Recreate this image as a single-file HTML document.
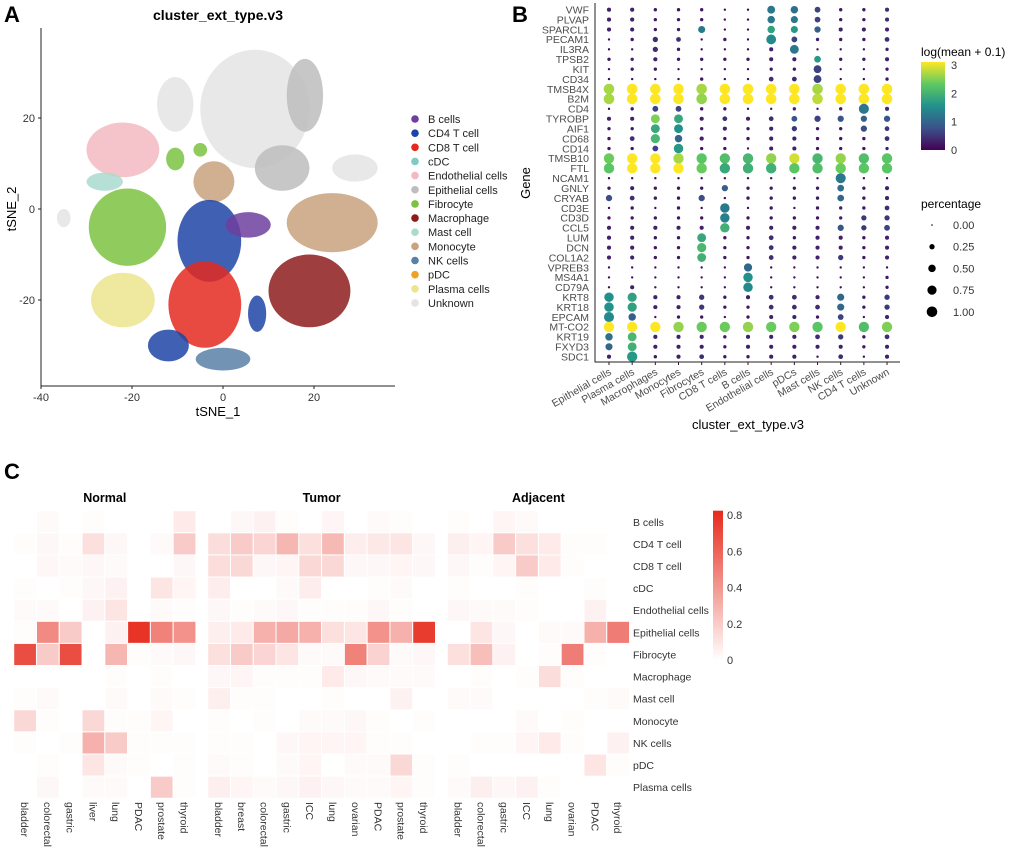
<!DOCTYPE html>
<html><head><meta charset="utf-8">
<style>
body{margin:0;background:#fff;}
svg{display:block;font-family:"Liberation Sans",Arial,sans-serif;}
</style></head>
<body>
<svg id="fig" width="1020" height="849" viewBox="0 0 1020 849" xmlns="http://www.w3.org/2000/svg">
<g id="pa"></g>
<g id="pb"></g>
<g id="pc"></g>
</svg>
<script>
// ---------- Panel A data ----------
const typeNames = ["B cells","CD4 T cell","CD8 T cell","cDC","Endothelial cells","Epithelial cells","Fibrocyte","Macrophage","Mast cell","Monocyte","NK cells","pDC","Plasma cells","Unknown"];
const typeColors = ["#6f3f9f","#1e45a6","#e4291f","#7fcbc3","#f3b9c1","#bdbdbd","#7cc242","#8e1c1c","#a9dbce","#c9a27f","#5b80a8","#f0a124","#ece58f","#e4e4e4"];
const clusterX = [7, 13, 18, -2, -22, -10.5, -21, -3, -4, 0, 5.5, 19, 24, -22, -12, 7.5, 29, -26, -35, -10.5, -5];
const clusterY = [22, 9, 25, 6, 13, 23, -4, -7, -21, -33, -3.5, -18, -3, -20, -30, -23, 9, 6, -2, 11, 13];
const clusterRX = [12, 6, 4, 4.5, 8, 4, 8.5, 7, 8, 6, 5, 9, 10, 7, 4.5, 2, 5, 4, 1.5, 2, 1.5];
const clusterRY = [13, 5, 8, 4.5, 6, 6, 8.5, 9, 9.5, 2.5, 2.8, 8, 6.5, 6, 3.5, 4, 3, 2, 2, 2.5, 1.5];
const clusterType = [13, 5, 5, 9, 4, 13, 6, 1, 2, 10, 0, 7, 9, 12, 1, 1, 13, 8, 13, 6, 6];
const xTicksA = [-40,-20,0,20];
const yTicksA = [20,0,-20];

// ---------- Panel B data ----------
const genes = ["VWF","PLVAP","SPARCL1","PECAM1","IL3RA","TPSB2","KIT","CD34","TMSB4X","B2M","CD4","TYROBP","AIF1","CD68","CD14","TMSB10","FTL","NCAM1","GNLY","CRYAB","CD3E","CD3D","CCL5","LUM","DCN","COL1A2","VPREB3","MS4A1","CD79A","KRT8","KRT18","EPCAM","MT-CO2","KRT19","FXYD3","SDC1"];
const clustersB = ["Epithelial cells","Plasma cells","Macrophages","Monocytes","Fibrocytes","CD8 T cells","B cells","Endothelial cells","pDCs","Mast cells","NK cells","CD4 T cells","Unknown"];
const exprB = [
[.3,.3,.2,.2,.2,.1,.1,1.2,1.1,.6,.2,.2,.4],
[.3,.3,.2,.2,.2,.1,.1,1.2,1.2,.6,.2,.2,.4],
[.3,.3,.2,.2,1.2,.1,.1,1.7,1.6,.9,.3,.3,.3],
[.1,.2,.4,.4,.1,.2,.1,1.4,.6,.3,.2,.2,.4],
[.1,.1,.4,.2,.1,.1,.1,.3,1.2,.1,.1,.1,.3],
[.2,.3,.3,.2,.2,.2,.2,.3,.3,1.6,.2,.2,.3],
[.1,.2,.2,.1,.1,.1,.1,.2,.2,.6,.1,.1,.2],
[.1,.1,.1,.1,.2,.1,.1,.4,.4,.6,.1,.1,.2],
[2.6,3,3,3,2.6,3,3,3,3,2.6,3,3,3],
[2.6,3,3,3,2.5,3,3,3,3,2.7,3,3,3],
[.1,.2,.6,.6,.2,.2,.1,.1,.3,.1,.2,1.2,.4],
[.3,.3,2.4,1.8,.3,.4,.3,.4,.8,.6,.8,.9,.8],
[.2,.2,1.8,1.5,.2,.3,.2,.3,.5,.2,.2,.7,.5],
[.2,.4,2,1,.3,.2,.2,.3,.3,.2,.2,.2,.4],
[.2,.2,.6,1.6,.2,.2,.1,.3,.3,.2,.2,.2,.3],
[2.3,3,3,2.6,2.2,2.1,2,2.5,2.8,2,2.5,2.1,2.2],
[2.2,3,3,3,2.3,1.8,1.9,1.9,2.2,2.1,2.3,2.2,2.2],
[.1,.1,.1,.1,.1,.1,.1,.1,.1,.1,1.2,.1,.1],
[.2,.3,.2,.2,.2,.9,.2,.2,.2,.2,1.1,.2,.3],
[.7,.4,.2,.2,.7,.1,.2,.2,.2,.2,1,.2,.3],
[.1,.2,.1,.2,.1,1.2,.1,.2,.1,.2,.3,.2,.4],
[.2,.2,.2,.2,.2,1.3,.2,.2,.2,.2,.3,.5,.5],
[.3,.3,.3,.3,.3,1.9,.3,.3,.3,.3,.8,.5,.6],
[.3,.3,.2,.2,1.8,.2,.2,.4,.2,.3,.3,.2,.3],
[.3,.3,.2,.2,2,.2,.2,.4,.3,.3,.3,.2,.3],
[.3,.3,.2,.2,1.9,.2,.2,.4,.3,.3,.5,.2,.3],
[.1,.1,.1,.1,.1,.1,1,.1,.1,.1,.1,.1,.1],
[.1,.1,.1,.1,.1,.1,1.5,.1,.1,.1,.1,.1,.2],
[.1,.3,.1,.1,.1,.1,1.4,.1,.1,.1,.1,.1,.2],
[1.5,1.7,.3,.3,.5,.2,.3,.4,.4,.3,1,.2,.5],
[1.5,1.7,.3,.3,.5,.2,.2,.4,.4,.4,1,.2,.5],
[1.4,.9,.1,.2,.2,.1,.2,.3,.3,.2,.6,.1,.3],
[3,3,3,2.5,2.3,2.3,2.5,2.3,2.4,2.2,3,2.1,2.4],
[1.1,2,.3,.3,.3,.2,.3,.3,.3,.4,.5,.2,.4],
[1,1.9,.3,.3,.3,.2,.3,.3,.3,.3,.3,.2,.3],
[.3,1.6,.2,.3,.4,.2,.2,.3,.3,.1,.4,.1,.3]];
const pctB = [
[.15,.15,.1,.1,.1,.05,.05,.55,.5,.3,.1,.1,.15],
[.15,.15,.1,.1,.1,.05,.05,.5,.45,.3,.1,.1,.15],
[.15,.15,.1,.1,.45,.05,.05,.5,.45,.35,.15,.15,.15],
[.05,.1,.25,.2,.05,.1,.05,.85,.3,.1,.1,.1,.2],
[.05,.05,.25,.1,.05,.05,.05,.15,.7,.05,.05,.05,.1],
[.1,.1,.15,.1,.1,.1,.1,.15,.15,.4,.1,.1,.15],
[.05,.1,.1,.05,.05,.05,.05,.1,.1,.55,.05,.05,.1],
[.05,.05,.05,.05,.1,.05,.05,.2,.2,.55,.05,.05,.1],
[1,1,1,1,1,1,1,1,1,1,1,1,1],
[1,1,1,1,1,1,1,1,1,1,1,1,1],
[.05,.1,.3,.3,.1,.1,.05,.05,.1,.05,.1,.9,.15],
[.15,.15,.7,.7,.15,.2,.15,.2,.3,.35,.35,.35,.35],
[.1,.1,.7,.7,.1,.15,.1,.15,.25,.1,.1,.35,.2],
[.1,.2,.75,.5,.15,.1,.1,.15,.15,.1,.1,.1,.2],
[.1,.1,.3,.8,.1,.1,.05,.15,.15,.1,.1,.1,.1],
[.95,.95,.95,.95,.95,.95,.95,.95,.95,.95,.95,.95,.95],
[.95,.95,.95,.95,.95,.95,.95,.95,.95,.95,.95,.95,.95],
[.05,.05,.05,.05,.05,.05,.05,.05,.05,.05,.9,.05,.05],
[.1,.15,.1,.1,.1,.35,.1,.1,.1,.1,.4,.1,.15],
[.35,.2,.1,.1,.35,.05,.1,.1,.1,.1,.4,.1,.15],
[.05,.1,.05,.1,.05,.8,.05,.1,.05,.1,.1,.1,.2],
[.1,.1,.1,.1,.1,.8,.1,.1,.1,.1,.1,.25,.25],
[.15,.15,.15,.15,.15,.8,.15,.15,.15,.15,.35,.25,.3],
[.15,.15,.1,.1,.7,.1,.1,.2,.1,.15,.15,.1,.15],
[.15,.15,.1,.1,.75,.1,.1,.2,.15,.15,.15,.1,.15],
[.15,.15,.1,.1,.7,.1,.1,.2,.15,.15,.25,.1,.15],
[.05,.05,.05,.05,.05,.05,.6,.05,.05,.05,.05,.05,.05],
[.05,.05,.05,.05,.05,.05,.8,.05,.05,.05,.05,.05,.1],
[.05,.15,.05,.05,.05,.05,.8,.05,.05,.05,.05,.05,.1],
[.8,.75,.15,.15,.25,.1,.15,.2,.2,.15,.45,.1,.25],
[.8,.75,.15,.15,.25,.1,.1,.2,.2,.2,.45,.1,.25],
[.9,.5,.05,.1,.1,.05,.1,.15,.15,.1,.3,.05,.15],
[.95,.95,.95,.95,.95,.95,.95,.95,.95,.95,.95,.95,.95],
[.5,.7,.15,.15,.15,.1,.15,.15,.15,.2,.25,.1,.2],
[.45,.7,.15,.15,.15,.1,.15,.15,.15,.15,.15,.1,.15],
[.15,.95,.1,.15,.2,.1,.1,.15,.15,.05,.2,.05,.15]];
const colorTicksB = [0,1,2,3];
const sizeTicksB = [0,0.25,0.5,0.75,1];
const sizeLabelsB = ["0.00","0.25","0.50","0.75","1.00"];

// ---------- Panel C data ----------
const cellTypes = ["B cells","CD4 T cell","CD8 T cell","cDC","Endothelial cells","Epithelial cells","Fibrocyte","Macrophage","Mast cell","Monocyte","NK cells","pDC","Plasma cells"];
const normalTissues = ["bladder","colorectal","gastric","liver","lung","PDAC","prostate","thyroid"];
const tumorTissues = ["bladder","breast","colorectal","gastric","ICC","lung","ovarian","PDAC","prostate","thyroid"];
const adjacentTissues = ["bladder","colorectal","gastric","ICC","lung","ovarian","PDAC","thyroid"];
const normalVals = [
[0,.02,0,.01,0,0,0,.08],[.01,.03,.01,.12,.03,0,.02,.2],[0,.03,.02,.03,.02,0,0,.03],
[.01,0,.01,.03,.05,0,.1,.04],[.02,.02,0,.05,.1,0,.02,.01],[.01,.45,.2,0,.05,.78,.48,.42],
[.68,.2,.68,0,.28,.01,.02,.03],[0,0,0,0,.01,0,.01,0],[.01,.02,0,0,.02,0,.02,.01],
[.15,.01,0,.15,.01,.01,.04,0],[.01,0,.01,.3,.2,.01,.01,.01],[0,.01,0,.1,.02,.01,0,.01],
[0,.03,0,.02,.02,0,.2,.01]];
const tumorVals = [
[0,.03,.05,.01,0,.04,0,.02,.01,0],[.13,.2,.16,.28,.12,.27,.07,.09,.1,.03],
[.13,.15,.03,.04,.15,.15,.03,.03,.04,.03],[.07,0,0,.02,.07,0,0,.01,.02,0],
[.03,.01,.02,.03,.01,.01,.01,.03,.01,0],[.06,.08,.3,.33,.3,.12,.1,.42,.3,.75],
[.12,.2,.16,.1,.02,.02,.48,.17,.02,.03],[.03,.04,.01,.01,.01,.08,.03,.02,.02,.02],
[.06,.01,.01,0,0,.01,0,0,.05,0],[.01,0,.01,0,.02,.02,.03,.01,0,.01],
[.01,.01,0,.03,.04,.04,.04,.01,.01,0],[.02,.01,0,.02,.04,0,.02,.02,.15,.01],
[.06,.04,.02,.03,.05,.03,.02,.02,.04,.01]];
const adjacentVals = [
[.01,0,.04,.02,0,0,0,0],[.06,.04,.2,.12,.08,.01,.01,0],[.03,.01,.04,.2,.08,.01,0,0],
[.01,0,0,.01,0,0,.01,0],[.03,.02,.02,.01,0,0,.05,0],[0,.1,.03,0,.02,.02,.3,.5],
[.12,.25,.05,0,.01,.5,.01,0],[0,.01,0,.01,.13,.01,0,0],[.02,.02,0,0,0,0,.01,.02],
[0,0,0,.02,0,.01,0,0],[0,.01,.01,.04,.08,.01,0,.05],[.01,0,0,0,0,0,.1,.01],
[.02,.06,.03,.05,.01,0,0,0]];
const heatTicks = [0,0.2,0.4,0.6,0.8];

(function(){
const NS="http://www.w3.org/2000/svg";
function mk(parent,tag,attrs,txt){const e=document.createElementNS(NS,tag);for(const k in attrs)e.setAttribute(k,attrs[k]);if(txt!==undefined)e.textContent=txt;parent.appendChild(e);return e;}
const fig=document.getElementById('fig');
const defs=mk(fig,'defs',{});

// ===== Panel A =====
const pa=document.getElementById('pa');
const xA=v=>223+4.55*v, yA=v=>209-4.55*v;
let t=mk(pa,'text',{x:4,y:22,'font-size':22,'font-weight':'bold'},'A');


t=mk(pa,'text',{x:218,y:20,'font-size':14,'font-weight':'bold','text-anchor':'middle'},'cluster_ext_type.v3');


clusterX.forEach((cx,i)=>{
  const e=mk(pa,'ellipse',{cx:xA(cx),cy:yA(clusterY[i]),rx:clusterRX[i]*4.55,ry:clusterRY[i]*4.55,fill:typeColors[clusterType[i]],'fill-opacity':0.85});
  
  
});
let ax=mk(pa,'path',{d:'M41 28 V386 H395',stroke:'#222',fill:'none','stroke-width':1});


xTicksA.forEach(v=>{mk(pa,'line',{x1:xA(v),x2:xA(v),y1:386,y2:389,stroke:'#222'});
  const l=mk(pa,'text',{x:xA(v),y:401,'font-size':11,'text-anchor':'middle',fill:'#333'},v);
  
  });
yTicksA.forEach(v=>{mk(pa,'line',{x1:38,x2:41,y1:yA(v),y2:yA(v),stroke:'#222'});
  const l=mk(pa,'text',{x:35,y:yA(v)+4,'font-size':11,'text-anchor':'end',fill:'#333'},v);
  
  });
t=mk(pa,'text',{x:218,y:416,'font-size':13,'text-anchor':'middle'},'tSNE_1');


t=mk(pa,'text',{x:16,y:209,'font-size':13,'text-anchor':'middle',transform:'rotate(-90 16 209)'},'tSNE_2');


typeNames.forEach((n,i)=>{const y=119+i*14.15;
  const g=mk(pa,'g',{});
  
  
  mk(g,'circle',{cx:415,cy:y,r:3.8,fill:typeColors[i]});
  mk(g,'text',{x:428,y:y+4,'font-size':11,fill:'#222'},n);});

// ===== Panel B =====
const pb=document.getElementById('pb');
const xB=i=>609+i*23.17, yB=j=>9.7+j*9.914;
const vStops=["#440154","#3b528b","#21918c","#5ec962","#fde725"];
function hex(c){return [1,3,5].map(k=>parseInt(c.substr(k,2),16));}
function viridis(v){let f=Math.max(0,Math.min(1,v/3))*4;let i=Math.min(3,Math.floor(f));let r=f-i;const a=hex(vStops[i]),b=hex(vStops[i+1]);return 'rgb('+a.map((x,k)=>Math.round(x+(b[k]-x)*r)).join(',')+')';}
const rB=p=>Math.max(0.8,5.3*Math.sqrt(p));
t=mk(pb,'text',{x:512,y:22,'font-size':22,'font-weight':'bold'},'B');


genes.forEach((g,j)=>{const l=mk(pb,'text',{x:589,y:yB(j)+3.8,'font-size':10.5,'text-anchor':'end',fill:'#4d4d4d'},g);
  
  
  clustersB.forEach((c,i)=>{const d=mk(pb,'circle',{cx:xB(i),cy:yB(j),r:rB(pctB[j][i]),fill:viridis(exprB[j][i])});
    
    });});
ax=mk(pb,'path',{d:'M595 3 V362 H900',stroke:'#222',fill:'none'});


clustersB.forEach((c,i)=>{mk(pb,'line',{x1:xB(i),x2:xB(i),y1:362,y2:365,stroke:'#222'});
  const l=mk(pb,'text',{x:xB(i)+3,y:374,'font-size':10.5,'text-anchor':'end',fill:'#4d4d4d',transform:`rotate(-30 ${xB(i)+3} 374)`},c);
  
  });
t=mk(pb,'text',{x:748,y:429,'font-size':13,'text-anchor':'middle'},'cluster_ext_type.v3');


t=mk(pb,'text',{x:530,y:183,'font-size':13,'text-anchor':'middle',transform:'rotate(-90 530 183)'},'Gene');


t=mk(pb,'text',{x:921,y:56,'font-size':12},'log(mean + 0.1)');


const lg=mk(defs,'linearGradient',{id:'vir',x1:0,y1:1,x2:0,y2:0});
vStops.forEach((c,k)=>mk(lg,'stop',{offset:k/4,'stop-color':c}));
let cb=mk(pb,'rect',{x:921,y:62,width:24,height:88,fill:'url(#vir)'});


colorTicksB.forEach(v=>{const y=150-v/3*85;mk(pb,'text',{x:951,y:y+4,'font-size':11,fill:'#333'},v);});
t=mk(pb,'text',{x:921,y:208,'font-size':12},'percentage');


sizeTicksB.forEach((v,k)=>{const y=225+k*21.7;const g=mk(pb,'g',{});
  
  
  mk(g,'circle',{cx:932,cy:y,r:Math.max(0.8,5.3*Math.sqrt(v)),fill:'#000'});
  mk(g,'text',{x:953,y:y+4,'font-size':11,fill:'#333'},sizeLabelsB[k]);});

// ===== Panel C =====
const pc=document.getElementById('pc');
t=mk(pc,'text',{x:4,y:479,'font-size':22,'font-weight':'bold'},'C');


const rowH=22.12, topC=510.7, cw=22.78;
const yC=j=>topC+j*rowH;
function heatColor(v){const f=Math.min(1,v/0.82);const r=Math.round(255+(230-255)*f),g=Math.round(255+(42-255)*f),b=Math.round(255+(28-255)*f);return `rgb(${r},${g},${b})`;}
function block(x0,tissues,vals,title){
  const xc=i=>x0+i*cw;
  const tt=mk(pc,'text',{x:x0+tissues.length*cw/2,y:502,'font-size':12.5,'font-weight':'bold','text-anchor':'middle'},title);
  
  
  vals.forEach((row,j)=>row.forEach((v,i)=>{if(v<=0)return;
    const r=mk(pc,'rect',{x:xc(i),y:yC(j),width:cw,height:rowH,fill:heatColor(v),stroke:'#fff','stroke-width':1});
    
    }));
  tissues.forEach((n,i)=>{const x=xc(i)+cw/2-4;
    const l=mk(pc,'text',{x:x,y:802,'font-size':10.5,fill:'#333',transform:`rotate(90 ${x} 802)`},n);
    
    });
}
block(13.7,normalTissues,normalVals,'Normal');
block(207.7,tumorTissues,tumorVals,'Tumor');
block(447.3,adjacentTissues,adjacentVals,'Adjacent');
cellTypes.forEach((n,j)=>{const l=mk(pc,'text',{x:633,y:yC(j)+rowH/2+4,'font-size':10.5,fill:'#333'},n);
  
  });
const lg2=mk(defs,'linearGradient',{id:'reds',x1:0,y1:1,x2:0,y2:0});
mk(lg2,'stop',{offset:0,'stop-color':'#ffffff'});mk(lg2,'stop',{offset:1,'stop-color':'#e62a1c'});
cb=mk(pc,'rect',{x:713,y:510.7,width:10,height:149.5,fill:'url(#reds)'});


heatTicks.forEach(v=>{const y=660.2-v*181.5;const l=mk(pc,'text',{x:727,y:y+4,'font-size':11,fill:'#333'},v===0?'0':v.toFixed(1));
  
  });
})();
</script>
</body></html>
